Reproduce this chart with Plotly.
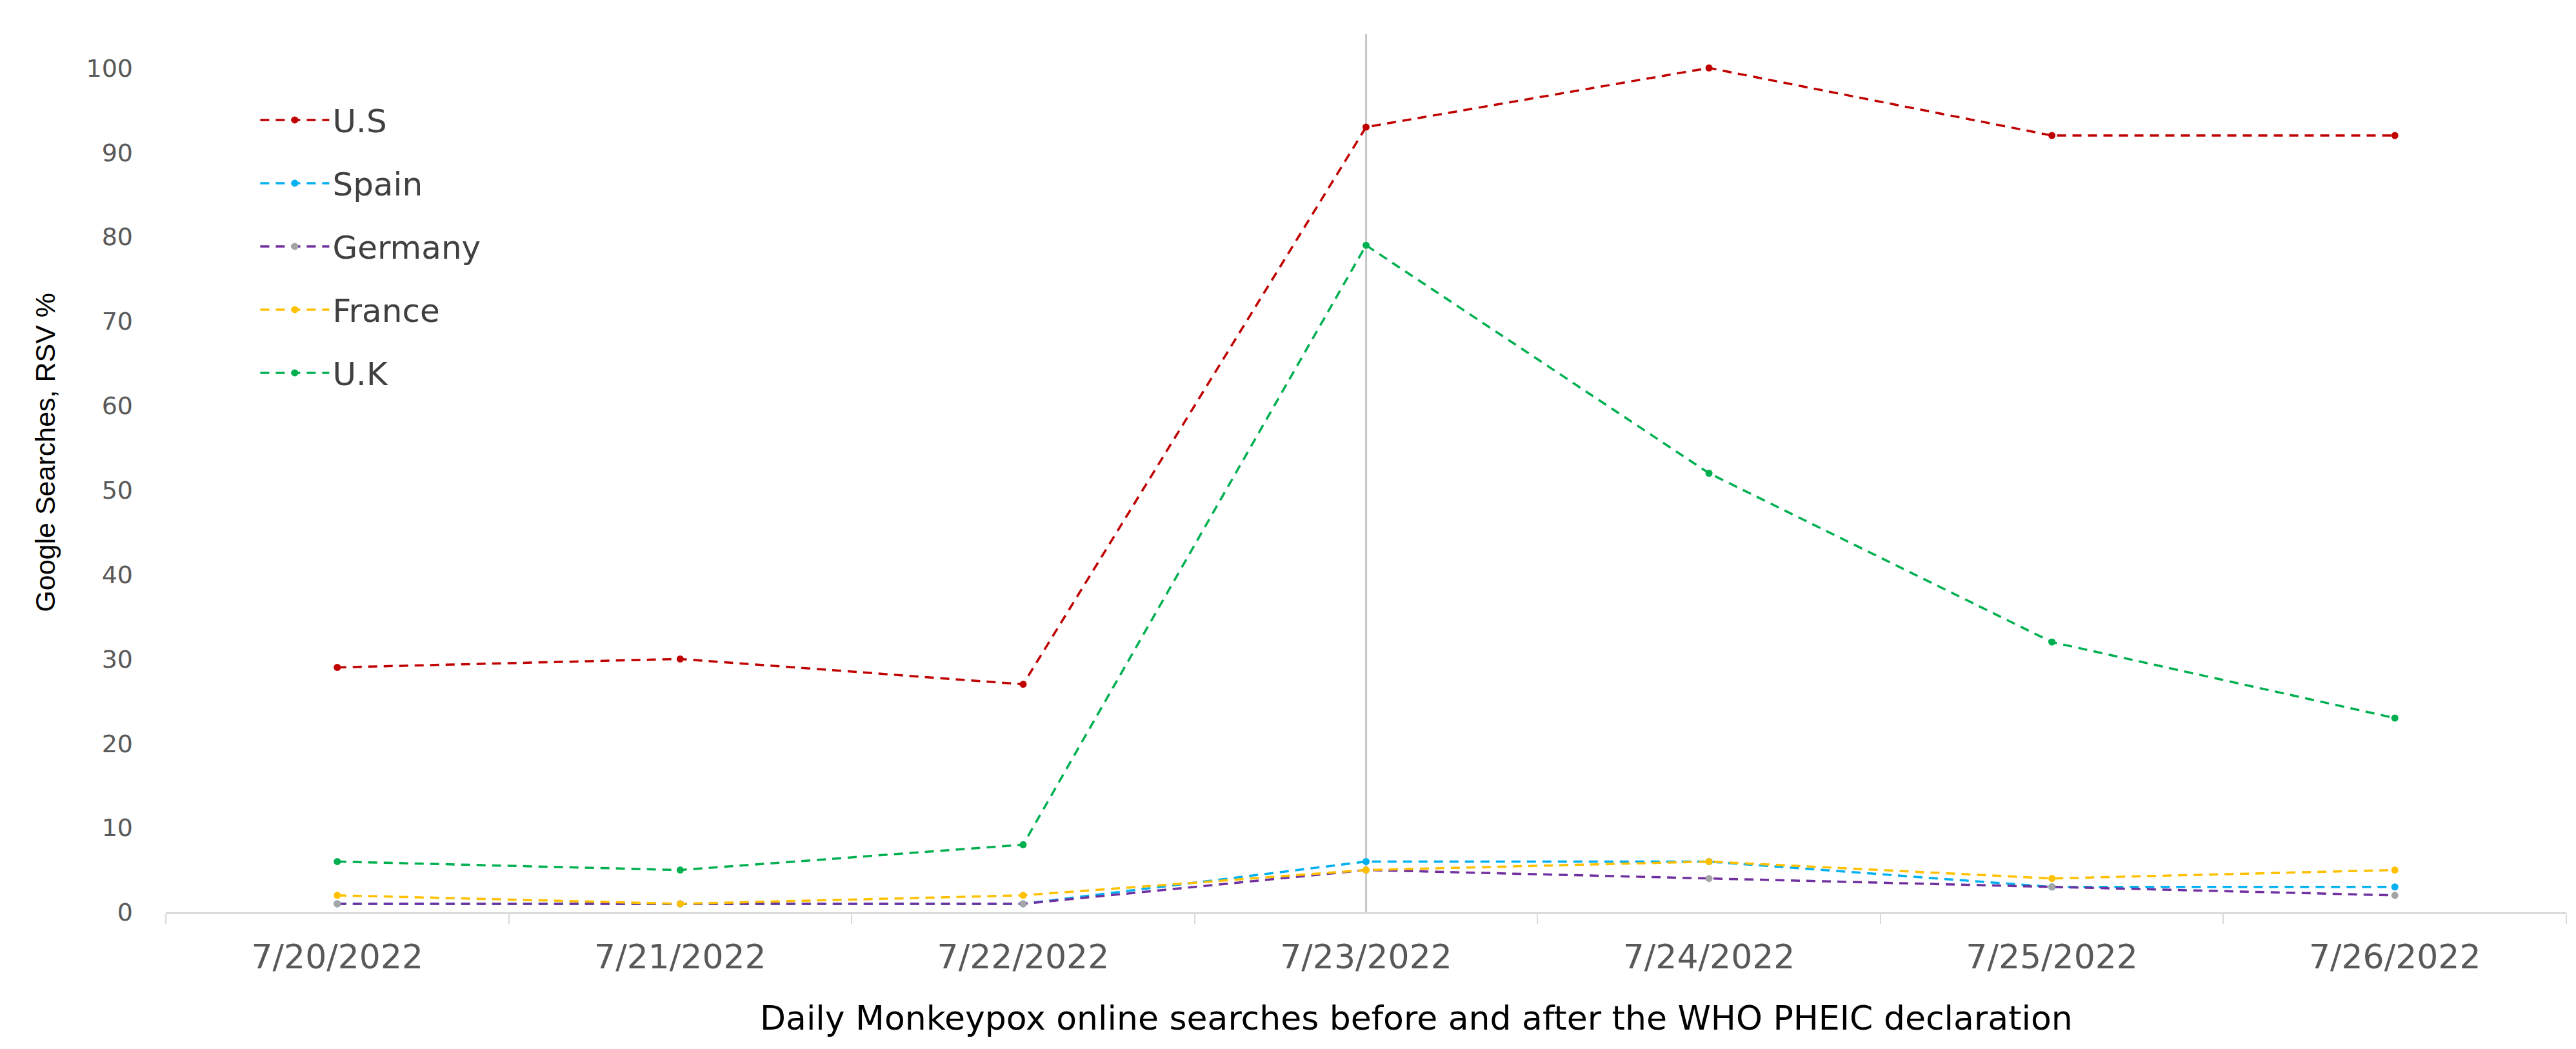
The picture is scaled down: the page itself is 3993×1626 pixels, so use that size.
import plotly.graph_objects as go

# data
dates = ['7/20/2022', '7/21/2022', '7/22/2022', '7/23/2022', '7/24/2022', '7/25/2022', '7/26/2022']
us = [29, 30, 27, 93, 100, 92, 92]
spain = [1, 1, 1, 6, 6, 3, 3]
germany = [1, 1, 1, 5, 4, 3, 2]
france = [2, 1, 2, 5, 6, 4, 5]
uk = [6, 5, 8, 79, 52, 32, 23]

series = [
    ('U.S', us, '#c00000', '#c00000'),
    ('Spain', spain, '#00b0f0', '#00b0f0'),
    ('Germany', germany, '#7030a0', '#a5a5a5'),
    ('France', france, '#ffc000', '#ffc000'),
    ('U.K', uk, '#00b050', '#00b050'),
]

fig = go.Figure()
for name, vals, lc, mc in series:
    fig.add_trace(go.Scatter(
        x=dates, y=vals, name=name, mode='lines+markers',
        legendgroup=name,
        line=dict(color=lc, width=3.5, dash='14px,10px'),
        marker=dict(color=mc, size=11, symbol='circle'),
    ))

# vertical marker at the PHEIC declaration
fig.add_shape(type='line', xref='x', yref='y', x0='7/23/2022', x1='7/23/2022',
              y0=0, y1=104, line=dict(color='#a6a6a6', width=2), layer='below')

# axis titles as annotations so they sit where the original has them
fig.add_annotation(text='Daily Monkeypox online searches before and after the WHO PHEIC declaration',
                   xref='paper', yref='paper', x=0.521, y=-0.097, xanchor='center', yanchor='top',
                   showarrow=False, font=dict(size=52, color='#000000'))
fig.add_annotation(text='Google Searches, RSV %', textangle=-90,
                   xref='paper', yref='paper', x=-0.0503, y=0.524, xanchor='center', yanchor='middle',
                   showarrow=False, font=dict(size=43, color='#000000', family='Liberation Sans'))

fig.update_layout(
    width=3993, height=1626,
    paper_bgcolor='white', plot_bgcolor='white',
    margin=dict(l=249, r=23, t=45, b=220),
    font=dict(family='DejaVu Sans', color='#595959'),
    legend=dict(
        x=0.038, y=0.931, xanchor='left', yanchor='top',
        font=dict(size=50, color='#404040'),
        itemwidth=107, tracegroupgap=30, bgcolor='rgba(0,0,0,0)',
    ),
    xaxis=dict(
        type='category', range=[-0.5, 6.5],
        showline=True, linecolor='#d9d9d9', linewidth=3,
        ticks='outside', tickson='boundaries', ticklen=15, tickcolor='#d9d9d9', tickwidth=2,
        tickfont=dict(size=52, color='#595959'),
        ticklabelstandoff=22,
        showgrid=False, zeroline=False,
    ),
    yaxis=dict(
        range=[0, 104], tickvals=[0, 10, 20, 30, 40, 50, 60, 70, 80, 90, 100],
        showline=False, showgrid=False, zeroline=False, ticks='',
        tickfont=dict(size=38, color='#595959'),
        ticklabelstandoff=50,
    ),
)

fig.write_html('out.html')
